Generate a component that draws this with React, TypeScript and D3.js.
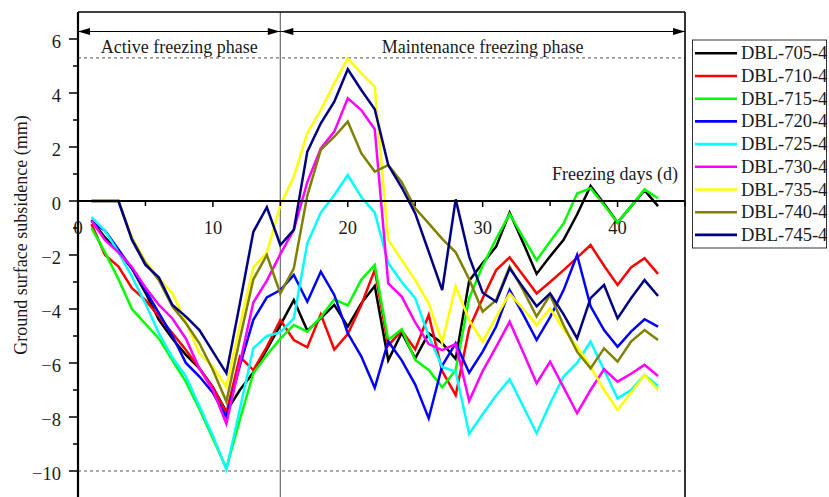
import React from "react";
import * as d3 from "d3";

const days = [1,2,3,4,5,6,7,8,9,10,11,12,13,14,15,16,17,18,19,20,21,22,23,24,25,26,27,28,29,30,31,32,33,34,35,36,37,38,39,40,41,42,43];

const s705 = [-0.7,-1.35,-1.9,-2.5,-3.4,-4.4,-5.1,-5.7,-6.2,-6.9,-7.8,-7.0,-6.35,-5.5,-4.6,-3.67,-4.8,-4.35,-3.85,-4.65,-3.79,-3.15,-5.9,-4.88,-5.83,-4.9,-5.27,-5.85,-2.95,-2.3,-1.69,-0.43,-1.55,-2.7,-2.05,-1.44,-0.5,0.56,-0.1,-0.8,-0.2,0.4,-0.19];
const s710 = [-0.85,-2.0,-2.43,-3.23,-3.67,-4.28,-4.9,-5.52,-6.2,-6.9,-7.85,-5.77,-6.26,-5.4,-4.41,-5.15,-5.42,-4.2,-5.5,-4.93,-3.85,-2.55,-5.35,-4.8,-5.5,-4.22,-6.3,-7.19,-4.72,-3.6,-2.56,-2.09,-2.75,-3.42,-3.0,-2.56,-2.1,-1.63,-2.4,-3.11,-2.46,-2.12,-2.7];
const s715 = [-1.0,-1.9,-2.9,-4.0,-4.55,-5.1,-5.9,-6.7,-7.7,-8.8,-9.9,-8.1,-6.38,-5.7,-5.1,-4.59,-4.84,-4.3,-3.64,-3.87,-2.92,-2.37,-5.15,-4.75,-5.89,-6.26,-6.9,-6.26,-3.6,-2.4,-1.4,-0.48,-1.35,-2.19,-1.5,-0.83,0.28,0.47,-0.15,-0.8,-0.2,0.43,0.1];
const s720 = [-0.75,-1.1,-1.8,-2.5,-3.3,-4.15,-5.0,-6.0,-6.5,-7.1,-8.0,-6.1,-4.4,-3.57,-3.3,-2.74,-3.73,-2.62,-3.48,-4.9,-5.75,-6.92,-5.2,-5.9,-6.8,-8.05,-6.1,-5.27,-6.36,-5.58,-4.65,-3.3,-4.2,-5.15,-4.3,-3.3,-2.0,-3.9,-4.78,-5.4,-4.84,-4.38,-4.65];
const s725 = [-0.6,-1.1,-1.9,-2.8,-3.8,-4.9,-5.8,-6.5,-7.6,-8.7,-9.95,-7.7,-5.45,-5.0,-4.87,-4.35,-1.57,-0.43,0.22,0.96,0.15,-0.43,-2.3,-3.0,-3.6,-5.0,-6.15,-6.32,-8.62,-7.9,-7.2,-6.6,-7.6,-8.6,-7.5,-6.5,-6.0,-5.21,-6.26,-7.31,-7.0,-6.44,-6.85];
const s730 = [-0.73,-1.44,-1.9,-2.45,-3.2,-3.85,-4.35,-5.1,-6.2,-7.0,-8.25,-6.0,-3.76,-2.95,-1.97,-1.07,0.7,1.95,2.57,3.8,3.37,2.66,-3.05,-3.54,-4.5,-5.3,-5.52,-5.3,-7.4,-6.3,-5.4,-4.47,-5.6,-6.75,-5.95,-6.9,-7.86,-7.0,-6.23,-6.69,-6.4,-6.07,-6.48];
const s735 = [0,0,0,-1.35,-2.25,-2.86,-3.42,-4.47,-5.64,-6.14,-6.88,-4.6,-2.46,-1.92,-0.15,0.9,2.51,3.37,4.36,5.28,4.73,4.23,-1.44,-2.19,-2.93,-3.79,-5.24,-3.15,-4.41,-5.21,-4.3,-3.42,-4.0,-4.59,-3.98,-4.75,-5.4,-6.14,-7.0,-7.74,-7.1,-6.44,-7.0];
const s740 = [0,0,0,-1.4,-2.3,-2.93,-3.91,-4.53,-5.27,-6.26,-7.43,-5.1,-2.9,-2.0,-3.42,-2.49,0.2,1.89,2.38,2.94,1.77,1.09,1.33,0.7,-0.27,-0.83,-1.4,-1.9,-2.9,-4.1,-3.67,-2.43,-3.3,-4.28,-3.48,-4.6,-5.58,-6.2,-5.46,-5.95,-5.21,-4.78,-5.15];
const s745 = [0,0,0,-1.44,-2.37,-2.83,-3.85,-4.28,-4.78,-5.58,-6.38,-3.8,-1.14,-0.23,-1.63,-1.07,1.83,2.88,3.68,4.88,4.11,3.4,1.33,0.5,-0.46,-1.88,-3.3,0.06,-2.06,-3.4,-3.73,-2.49,-3.2,-3.9,-3.42,-4.2,-5.09,-3.6,-3.11,-4.35,-3.6,-2.93,-3.52];

const seriesNames = ["DBL-705-4","DBL-710-4","DBL-715-4","DBL-720-4","DBL-725-4","DBL-730-4","DBL-735-4","DBL-740-4","DBL-745-4"];
const seriesValues = [s705, s710, s715, s720, s725, s730, s735, s740, s745];
const seriesColors = ["#000000","#ff0000","#00ff00","#0000ff","#00ffff","#ff00ff","#ffff00","#808000","#000080"];

const yMajorTicks = [-10,-8,-6,-4,-2,0,2,4,6];
const yMinorTicks = [-9,-7,-5,-3,-1,1,3,5];
const xMajorTicks = [0,10,20,30,40];
const xMinorTicks = [5,15,25,35,45];
const phaseBoundary = 15;
const dashedLevels = [5.3, -10];

const W = 829, H = 497;
const FONT = "Liberation Serif, DejaVu Serif, serif";

export default function App() {
  const x = d3.scaleLinear().domain([0, 45]).range([78, 685]);
  const y = d3.scaleLinear().domain([-11, 7]).range([498, 12]);
  const line = d3.line<number>().x((_, i) => x(days[i])).y((v) => y(v));
  const xb = x(phaseBoundary);
  const arrowY = 31.5;
  const ah = 12, aw = 3.5;
  const head = (tip: number, dir: number) =>
    `${tip},${arrowY} ${tip + dir * ah},${arrowY - aw} ${tip + dir * ah},${arrowY + aw}`;
  const left = x(0), right = x(45), top = y(7), bottom = y(-11);

  return (
    <svg width={W} height={H} style={{ position: "absolute", left: 0, top: 0, background: "#fff", fontFamily: FONT }}>
      <rect x={0} y={0} width={W} height={H} fill="#fff" />
      {dashedLevels.map((v) => (
        <line key={v} x1={left} x2={right} y1={y(v)} y2={y(v)} stroke="#555" strokeWidth={1} strokeDasharray="3,3" />
      ))}
      <line x1={xb} x2={xb} y1={top} y2={bottom} stroke="#777" strokeWidth={1.3} />
      {seriesValues.map((vals, i) => (
        <path key={i} d={line(vals) || ""} fill="none" stroke={seriesColors[i]} strokeWidth={2.5} strokeLinejoin="miter" />
      ))}
      <line x1={left} x2={right} y1={top} y2={top} stroke="#000" strokeWidth={1.6} />
      <line x1={right} x2={right} y1={top} y2={bottom} stroke="#000" strokeWidth={1.6} />
      <line x1={left} x2={left} y1={top} y2={bottom} stroke="#000" strokeWidth={2.2} />
      <line x1={left} x2={right} y1={y(0)} y2={y(0)} stroke="#000" strokeWidth={2} />
      {xMajorTicks.map((t) => (
        <line key={"xM" + t} x1={x(t)} x2={x(t)} y1={y(0)} y2={y(0) + 6} stroke="#000" strokeWidth={1.5} />
      ))}
      {xMinorTicks.map((t) => (
        <line key={"xm" + t} x1={x(t)} x2={x(t)} y1={y(0)} y2={y(0) + 5} stroke="#000" strokeWidth={1.5} />
      ))}
      {xMajorTicks.map((t) => (
        <text key={"xl" + t} x={x(t)} y={234} fontSize={18.5} textAnchor="middle" fill="#1a1a1a">{t}</text>
      ))}
      {yMajorTicks.map((t) => (
        <line key={"yM" + t} x1={left - 9} x2={left} y1={y(t)} y2={y(t)} stroke="#000" strokeWidth={1.5} />
      ))}
      {yMinorTicks.map((t) => (
        <line key={"ym" + t} x1={left - 5} x2={left} y1={y(t)} y2={y(t)} stroke="#000" strokeWidth={1.5} />
      ))}
      {yMajorTicks.map((t) => (
        <text key={"yl" + t} x={61} y={y(t) + 8.5} fontSize={18.5} textAnchor="end" fill="#1a1a1a">
          {t < 0 ? "\u2212" + Math.abs(t) : String(t)}
        </text>
      ))}
      <text transform={`translate(27,235) rotate(-90)`} fontSize={18} textAnchor="middle" fill="#1a1a1a">
        Ground surface subsidence (mm)
      </text>
      <text x={678} y={179.5} fontSize={18} textAnchor="end" fill="#1a1a1a">Freezing days (d)</text>
      <line x1={left} x2={xb} y1={arrowY} y2={arrowY} stroke="#000" strokeWidth={1} />
      <line x1={xb} x2={right} y1={arrowY} y2={arrowY} stroke="#000" strokeWidth={1} />
      <polygon points={head(left, 1)} fill="#000" />
      <polygon points={head(xb - 0.5, -1)} fill="#000" />
      <polygon points={head(xb + 1, 1)} fill="#000" />
      <polygon points={head(right, -1)} fill="#000" />
      <text x={(left + xb) / 2} y={52.5} fontSize={18} textAnchor="middle" fill="#1a1a1a">Active freezing phase</text>
      <text x={(xb + right) / 2} y={52.5} fontSize={18} textAnchor="middle" fill="#1a1a1a">Maintenance freezing phase</text>
      <rect x={692.5} y={40} width={134} height={208} fill="#fff" stroke="#333" strokeWidth={1} />
      {seriesNames.map((n, i) => {
        const ly = 53.3 + i * 22.7;
        return (
          <g key={n}>
            <line x1={695} x2={737} y1={ly} y2={ly} stroke={seriesColors[i]} strokeWidth={2.6} />
            <text x={741} y={ly + 6} fontSize={18.5} fill="#1a1a1a">{n}</text>
          </g>
        );
      })}
    </svg>
  );
}
